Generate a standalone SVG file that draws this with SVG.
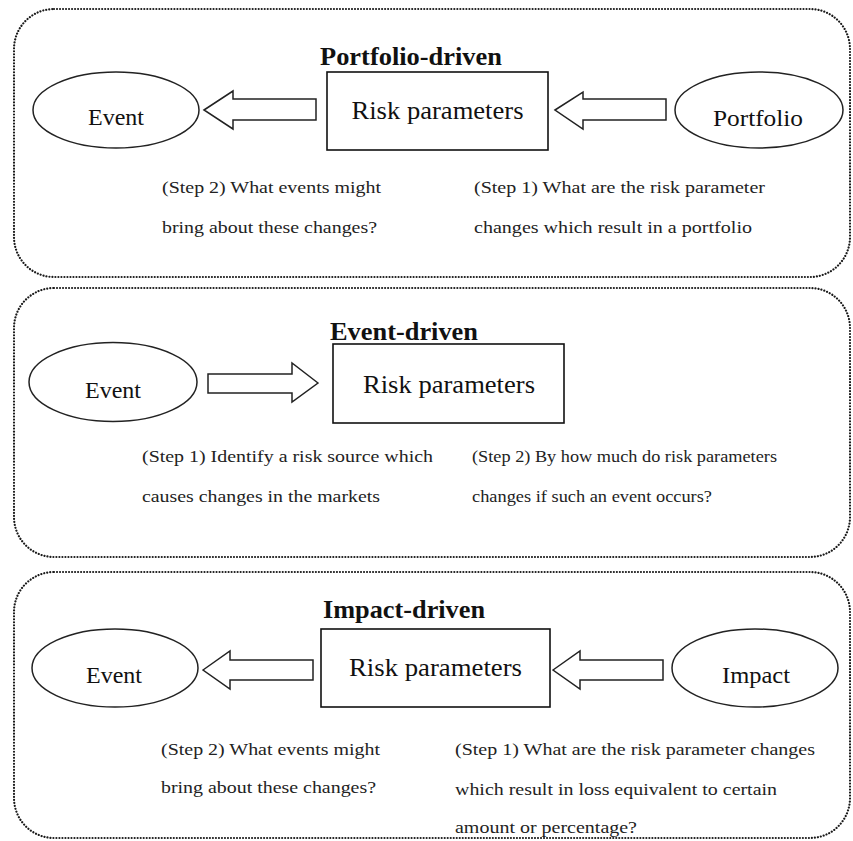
<svg xmlns="http://www.w3.org/2000/svg" width="853" height="841" viewBox="0 0 853 841">
<style>
.panel{fill:none;stroke:#1a1a1a;stroke-width:2.2;stroke-dasharray:0.01 3;stroke-linecap:round}
.ell{fill:#fff;stroke:#222;stroke-width:1.5}
.box{fill:#fff;stroke:#111;stroke-width:1.6}
.arr{fill:#fff;stroke:#222;stroke-width:1.5;stroke-linejoin:miter}
.title{font-family:"Liberation Serif","Times New Roman",serif;font-weight:bold;font-size:25px;fill:#111}
.lbl{font-family:"Liberation Serif","Times New Roman",serif;font-size:24px;fill:#111;text-anchor:middle}
.rp{font-family:"Liberation Serif","Times New Roman",serif;font-size:25px;fill:#111;text-anchor:middle}
.step{font-family:"Liberation Serif","Times New Roman",serif;font-size:17.5px;fill:#222}
</style>
<rect width="853" height="841" fill="#fff"/>

<g id="panel-portfolio">
<rect class="panel" x="14" y="9" width="836" height="268" rx="40" ry="40"/>
<text class="title" x="320" y="65" textLength="182" lengthAdjust="spacingAndGlyphs">Portfolio-driven</text>
</g>
<g id="panel-event">
<rect class="panel" x="14" y="288" width="836" height="269" rx="40" ry="40"/>
<text class="title" x="330" y="340" textLength="148" lengthAdjust="spacingAndGlyphs">Event-driven</text>
</g>
<g id="panel-impact">
<rect class="panel" x="14" y="572" width="836" height="266" rx="40" ry="40"/>
<text class="title" x="323" y="618" textLength="162" lengthAdjust="spacingAndGlyphs">Impact-driven</text>
</g>

<g id="connectors">
<polygon class="arr" points="204,110 233,91 233,99 316,99 316,120 233,120 233,129"/>
<polygon class="arr" points="555,110 583,92 583,99 666,99 666,120 583,120 583,129"/>
<polygon class="arr" points="318,383 292,363 292,374 208,374 208,393 292,393 292,402"/>
<polygon class="arr" points="203,670 230,651 230,660 313,660 313,680 230,680 230,689"/>
<polygon class="arr" points="553,670 580,651 580,660 663,660 663,680 580,680 580,689"/>
</g>

<g id="p1-event">
<ellipse class="ell" cx="116" cy="110" rx="83" ry="38"/>
<text class="lbl" x="116" y="125">Event</text>
</g>
<g id="p1-risk">
<rect class="box" x="327" y="72" width="221" height="78"/>
<text class="rp" x="437.5" y="119" textLength="172" lengthAdjust="spacingAndGlyphs">Risk parameters</text>
</g>
<g id="p1-portfolio">
<ellipse class="ell" cx="759" cy="110" rx="84" ry="38"/>
<text class="lbl" x="758" y="126" textLength="90" lengthAdjust="spacingAndGlyphs">Portfolio</text>
</g>
<g id="p1-notes">
<text class="step" x="162" y="193" textLength="219" lengthAdjust="spacingAndGlyphs">(Step 2) What events might</text>
<text class="step" x="162" y="233" textLength="215" lengthAdjust="spacingAndGlyphs">bring about these changes?</text>
<text class="step" x="474" y="193" textLength="291" lengthAdjust="spacingAndGlyphs">(Step 1) What are the risk parameter</text>
<text class="step" x="474" y="233" textLength="278" lengthAdjust="spacingAndGlyphs">changes which result in a portfolio</text>
</g>

<g id="p2-event">
<ellipse class="ell" cx="113" cy="382" rx="84" ry="39.5"/>
<text class="lbl" x="113" y="398">Event</text>
</g>
<g id="p2-risk">
<rect class="box" x="333" y="344" width="231" height="79"/>
<text class="rp" x="449" y="393" textLength="172" lengthAdjust="spacingAndGlyphs">Risk parameters</text>
</g>
<g id="p2-notes">
<text class="step" x="142" y="462" textLength="291" lengthAdjust="spacingAndGlyphs">(Step 1) Identify a risk source which</text>
<text class="step" x="142" y="502" textLength="238" lengthAdjust="spacingAndGlyphs">causes changes in the markets</text>
<text class="step" x="472" y="462" textLength="305" lengthAdjust="spacingAndGlyphs">(Step 2) By how much do risk parameters</text>
<text class="step" x="472" y="502" textLength="240" lengthAdjust="spacingAndGlyphs">changes if such an event occurs?</text>
</g>

<g id="p3-event">
<ellipse class="ell" cx="115" cy="668" rx="83" ry="39"/>
<text class="lbl" x="114" y="683">Event</text>
</g>
<g id="p3-risk">
<rect class="box" x="321" y="629" width="229" height="78"/>
<text class="rp" x="435.5" y="676" textLength="173" lengthAdjust="spacingAndGlyphs">Risk parameters</text>
</g>
<g id="p3-impact">
<ellipse class="ell" cx="755" cy="668" rx="83" ry="39"/>
<text class="lbl" x="756" y="683" textLength="68" lengthAdjust="spacingAndGlyphs">Impact</text>
</g>
<g id="p3-notes">
<text class="step" x="161" y="755" textLength="219" lengthAdjust="spacingAndGlyphs">(Step 2) What events might</text>
<text class="step" x="161" y="793" textLength="215" lengthAdjust="spacingAndGlyphs">bring about these changes?</text>
<text class="step" x="455" y="755" textLength="360" lengthAdjust="spacingAndGlyphs">(Step 1) What are the risk parameter changes</text>
<text class="step" x="455" y="795" textLength="322" lengthAdjust="spacingAndGlyphs">which result in loss equivalent to certain</text>
<text class="step" x="455" y="833" textLength="182" lengthAdjust="spacingAndGlyphs">amount or percentage?</text>
</g>
</svg>
